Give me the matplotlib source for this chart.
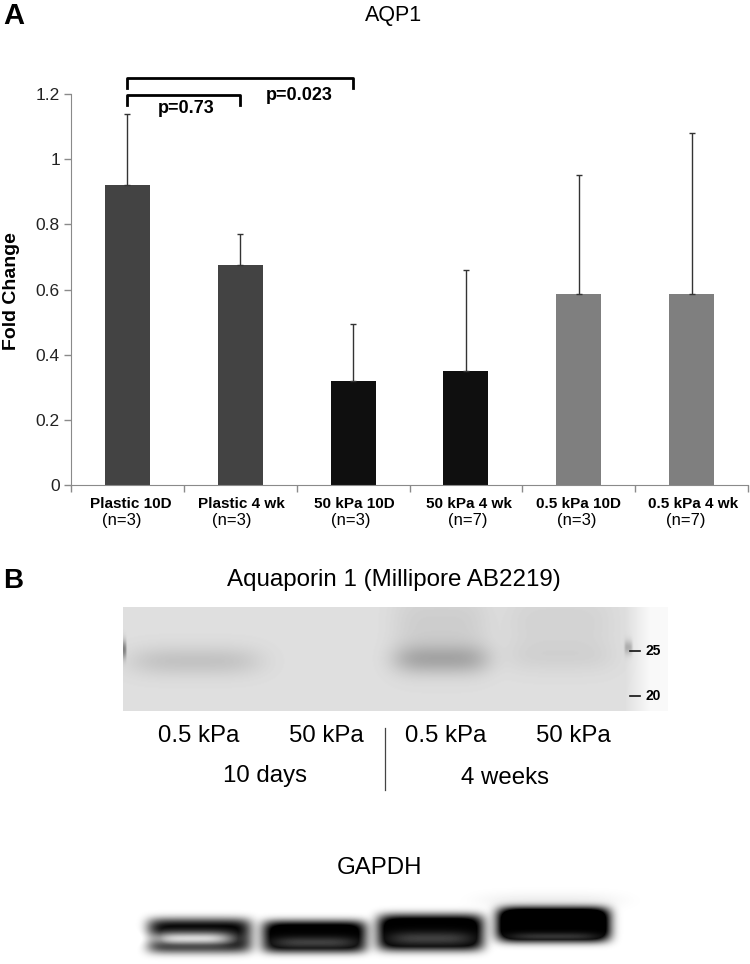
import numpy as np
import matplotlib
matplotlib.use("Agg")
import matplotlib.pyplot as plt

W, H = 750, 964

# bar chart values
groups = ["Plastic 10D", "Plastic 4 wk", "50 kPa 10D", "50 kPa 4 wk", "0.5 kPa 10D", "0.5 kPa 4 wk"]
counts = ["(n=3)", "(n=3)", "(n=3)", "(n=7)", "(n=3)", "(n=7)"]
means = [0.92, 0.675, 0.32, 0.35, 0.585, 0.585]
err_top = [1.14, 0.77, 0.495, 0.66, 0.95, 1.08]
colors = ["#434343", "#434343", "#0f0f0f", "#0f0f0f", "#7f7f7f", "#7f7f7f"]
yticks = [0, 0.2, 0.4, 0.6, 0.8, 1, 1.2]
ytick_labels = ["0", "0.2", "0.4", "0.6", "0.8", "1", "1.2"]
name_x = [131, 241, 354, 469, 579, 693]
count_x = [122, 232, 351, 468, 577, 686]

# blot bands: centre x, centre y, half width, half height, strength
aqp_bands = [(195, 661, 66, 15, 0.11), (441, 659, 48, 15, 0.20), (560, 657, 55, 16, 0.04)]
aqp_smears = [(441, 625, 48, 38, 0.07), (560, 622, 55, 34, 0.05), (123, 649, 3, 9, 0.35), (628, 647, 4, 7, 0.2)]
gapdh_bands = [(199, 935, 52, 17, 1.1), (314, 936, 52, 16, 1.3), (430, 932, 53, 18, 1.4), (553, 924, 56, 17, 1.8)]
gapdh_lift = [(192, 938, 42, 7, 0.85), (314, 942, 42, 6, 0.25), (430, 938, 42, 7, 0.25), (553, 936, 44, 4, 0.2)]
gapdh_haze = [(550, 900, 70, 8, 0.06)]

plt.rcParams["font.family"] = ["Liberation Sans", "DejaVu Sans"]

fig = plt.figure(figsize=(W / 100, H / 100), dpi=100)


def px_axes(x0, y0, x1, y1):
    return fig.add_axes([x0 / W, 1 - y1 / H, (x1 - x0) / W, (y1 - y0) / H])


def blob(xx, yy, b, p=4, q=2):
    cx, cy, hw, hh, s = b
    return s * np.exp(-np.abs((xx - cx) / hw) ** p - np.abs((yy - cy) / hh) ** q)


# panel A bars
ax = px_axes(71, 94, 748, 485)
x = np.arange(len(means))
ax.bar(x, means, width=0.4, color=colors)
upper = np.array(err_top) - np.array(means)
ax.errorbar(x, means, yerr=[np.zeros(6), upper], fmt="none", ecolor="#333333", elinewidth=1, capsize=2, capthick=1)
ax.set_xlim(-0.5, 5.5)
ax.set_ylim(0, 1.2)
ax.set_xticks(np.arange(-0.5, 6, 1))
ax.set_xticklabels([])
ax.set_yticks(yticks)
ax.set_yticklabels(ytick_labels, fontsize=12.5, color="#222222")
ax.tick_params(axis="both", color="#8a8a8a", length=5, width=1, pad=3)
for s in ["top", "right"]:
    ax.spines[s].set_visible(False)
for s in ["left", "bottom"]:
    ax.spines[s].set_color("#8a8a8a")

# significance brackets
ax.plot([0, 0, 2, 2], [1.218, 1.249, 1.249, 1.218], color="black", lw=2, clip_on=False)
ax.plot([0, 0, 1, 1], [1.166, 1.197, 1.197, 1.166], color="black", lw=2, clip_on=False)
ax.text(0.52, 1.13, "p=0.73", ha="center", va="bottom", fontsize=13, fontweight="bold")
ax.text(1.52, 1.17, "p=0.023", ha="center", va="bottom", fontsize=13, fontweight="bold")

# AQP blot
xx, yy = np.meshgrid(np.arange(123, 668), np.arange(607, 711))
img = 0.875 + 0.10 * np.clip((xx - 625) / 25.0, 0, 1)
for b in aqp_bands + aqp_smears:
    img = img - blob(xx, yy, b)
ax2 = px_axes(123, 607, 668, 711)
ax2.imshow(img, cmap="gray", vmin=0, vmax=1, aspect="auto", extent=(123, 668, 711, 607))
ax2.axis("off")

# GAPDH blot
xx, yy = np.meshgrid(np.arange(130, 640), np.arange(880, 964))
img = np.ones_like(xx, dtype=float)
for b in gapdh_bands:
    img = img - blob(xx, yy, b, p=8, q=4)
img = np.clip(img, 0, 1)
# hollow centre of the first band, paler lower edges on the rest
for b in gapdh_lift:
    img = img + blob(xx, yy, b, p=4, q=2)
for b in gapdh_haze:
    img = img - blob(xx, yy, b)
img = np.clip(img, 0, 1)
ax3 = px_axes(130, 880, 640, 964)
ax3.imshow(img, cmap="gray", vmin=0, vmax=1, aspect="auto", extent=(130, 640, 964, 880))
ax3.axis("off")

# overlay in pixel coordinates for the labels
ov = fig.add_axes([0, 0, 1, 1], facecolor="none")
ov.set_xlim(0, W)
ov.set_ylim(H, 0)
ov.axis("off")

ov.text(14, 24, "A", fontsize=21, fontweight="bold", ha="center", va="baseline")
ov.text(13, 588, "B", fontsize=20, fontweight="bold", ha="center", va="baseline")
ov.text(394, 21, "AQP1", fontsize=15.5, ha="center", va="baseline")
ov.text(394, 580, "Aquaporin 1 (Millipore AB2219)", fontsize=17.4, ha="center", va="center")
ov.text(380, 868, "GAPDH", fontsize=17.3, ha="center", va="center")
ov.text(12, 291, "Fold Change", fontsize=14, fontweight="bold", rotation=90, ha="center", va="center")

for nm, c, nx, cx in zip(groups, counts, name_x, count_x):
    ov.text(nx, 504, nm, fontsize=11, fontweight="bold", ha="center", va="center")
    ov.text(cx, 521, c, fontsize=12, ha="center", va="center")

for lx, lab in zip([199, 326, 446, 573], ["0.5 kPa", "50 kPa", "0.5 kPa", "50 kPa"]):
    ov.text(lx, 736, lab, fontsize=17.3, ha="center", va="center")
ov.text(265, 776, "10 days", fontsize=17.3, ha="center", va="center")
ov.text(505, 778, "4 weeks", fontsize=17.3, ha="center", va="center")
ov.plot([384.5, 384.5], [728, 790], color="#444444", lw=0.9)

# size markers on the blot
for y, lab in zip([651, 696], ["25", "20"]):
    ov.plot([630, 640], [y, y], color="#111111", lw=1.2)
    ov.text(646, y, lab, fontsize=10, fontweight="bold", va="center", ha="left")

fig.savefig("out.png", dpi=100)
